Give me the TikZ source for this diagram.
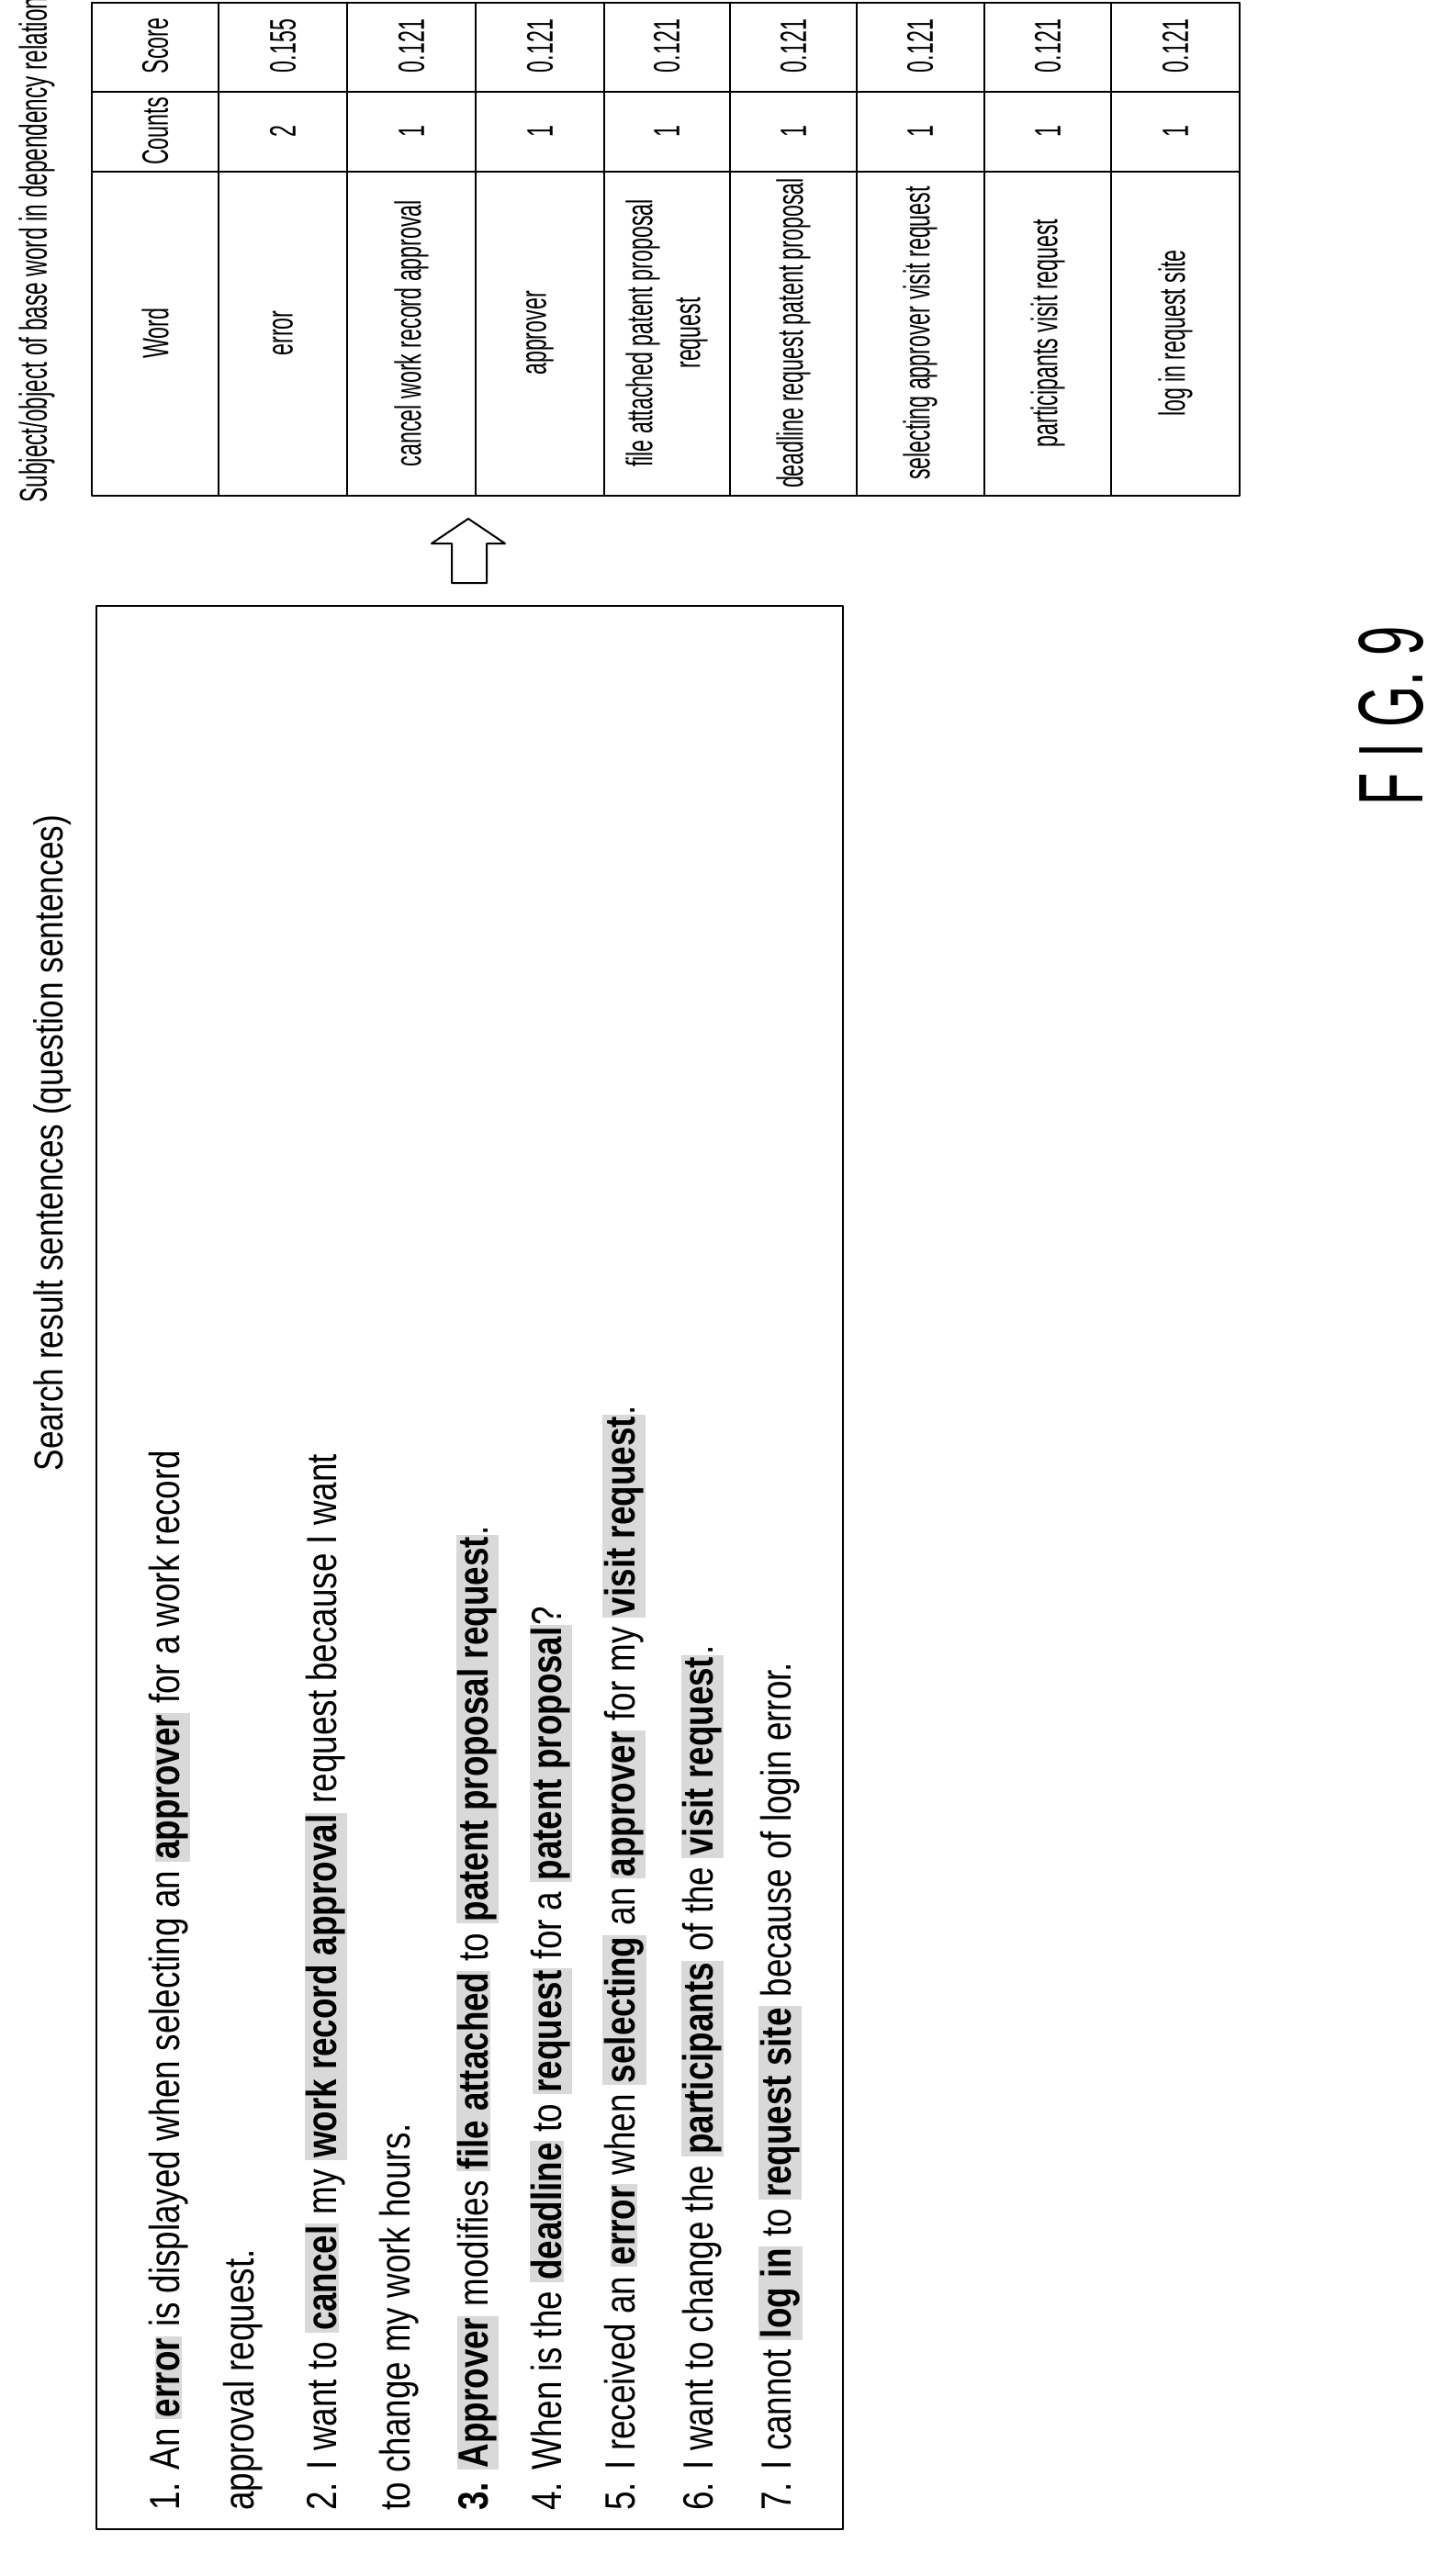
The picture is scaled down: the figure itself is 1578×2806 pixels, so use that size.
\documentclass[tikz,border=0pt]{standalone}
\usepackage{fontspec}
\setmainfont{Liberation Sans}
\newfontfamily\boxfont[FakeStretch=0.8]{Liberation Sans}
\newfontfamily\tabfont[FakeStretch=0.58]{Liberation Sans}
\newcommand{\hl}[1]{{\setlength{\fboxsep}{1pt}\colorbox{gray!30}{\bfseries #1}}}
\tikzset{
  sent/.style={anchor=west,rotate=90,inner sep=0pt,font=\boxfont\fontsize{23}{27}\selectfont},
  cell/.style={rotate=90,inner sep=0pt,align=center,font=\tabfont\fontsize{20}{26}\selectfont},
}
\begin{document}
\begin{tikzpicture}[line cap=round,line join=round,x=0.5pt,y=-0.5pt]
\useasboundingbox (0,0) rectangle (1578,2806);
%% left box with the sentences
\draw [line width=1pt] (105,660) rectangle (918,2755);
\node[cell,font=\boxfont\fontsize{22}{26}\selectfont] (stitle) at (57,1245) {Search result sentences (question sentences)};
\node[sent] (s1) at (185,2735) {1. An \hl{error} is displayed when selecting an \hl{approver} for a work record};
\node[sent] (s1b) at (265,2735) {approval request.};
\node[sent] (s2) at (355,2735) {2. I want to \hl{cancel} my \hl{work record approval} request because I want};
\node[sent] (s2b) at (435,2735) {to change my work hours.};
\node[sent] (s3) at (520,2735) {\bfseries 3. \hl{Approver} \mdseries modifies \hl{file attached} to \hl{patent proposal request}.};
\node[sent] (s4) at (600,2735) {4. When is the \hl{deadline} to \hl{request} for a \hl{patent proposal}?};
\node[sent] (s5) at (680,2735) {5. I received an \hl{error} when \hl{selecting} an \hl{approver} for my \hl{visit request}.};
\node[sent] (s6) at (765,2735) {6. I want to change the \hl{participants} of the \hl{visit request}.};
\node[sent] (s7) at (850,2735) {7. I cannot \hl{log in} to \hl{request site} because of login error.};
%% hollow arrow
\draw [line width=1pt] (492,635) -- (492,592) -- (470,592) -- (510,565) -- (550,592) -- (530,592) -- (530,635) -- cycle;
%% table
\node[cell,font=\tabfont\fontsize{21}{26}\selectfont] (ttitle) at (40,272) {Subject/object of base word in dependency relation};
\draw [line width=1pt] (100,3) rectangle (1350,540);
\foreach \x in {238,378,518,658,795,933,1072,1210}
  \draw [line width=1pt] (\x,3) -- (\x,540);
\foreach \y in {100,187}
  \draw [line width=1pt] (100,\y) -- (1350,\y);
\foreach \x/\w/\c/\s [count=\i] in {169/Word/Counts/Score,
    308/error/2/0.155,
    448/cancel work record approval/1/0.121,
    588/approver/1/0.121,
    726/{file attached patent proposal\\request}/1/0.121,
    864/deadline request patent proposal/1/0.121,
    1002/selecting approver visit request/1/0.121,
    1141/participants visit request/1/0.121,
    1280/log in request site/1/0.121}{
  \node[cell] (w\i) at (\x,363) {\w};
  \node[cell] (c\i) at (\x,143) {\c};
  \node[cell] (sc\i) at (\x,50) {\s};
}
%% figure label
\node[rotate=90,font=\tabfont\fontsize{50}{56}\selectfont] (fig) at (1515,780) {F\,I\,G.\,9};
\end{tikzpicture}
\end{document}
